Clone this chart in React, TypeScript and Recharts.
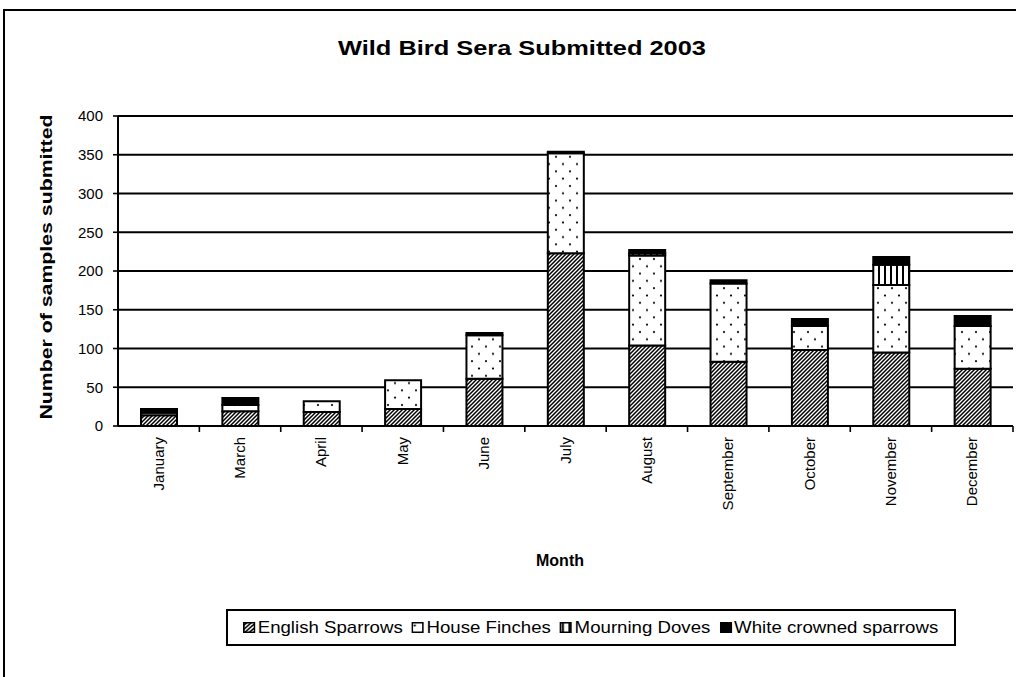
import React from 'react';
import { BarChart, Bar, XAxis, YAxis, CartesianGrid } from 'recharts';

// Wild bird serum samples per month, 2003
const MONTHS = ['January', 'March', 'April', 'May', 'June', 'July', 'August', 'September', 'October', 'November', 'December'];
const ENGLISH_SPARROWS = [14, 19, 18, 22, 61, 223, 104, 83, 98, 95, 74];
const HOUSE_FINCHES = [3, 8, 14, 37, 56, 129, 116, 101, 31, 87, 55];
const MOURNING_DOVES = [0, 0, 0, 0, 0, 0, 3, 0, 0, 26, 0];
const WHITE_CROWNED = [5, 9, 0, 0, 3, 2, 4, 4, 9, 10, 13];
const Y_TICKS = [0, 50, 100, 150, 200, 250, 300, 350, 400];

const SERIES = [
  { key: 'english', name: 'English Sparrows', fill: 'url(#hatch)' },
  { key: 'finch', name: 'House Finches', fill: 'url(#dots)' },
  { key: 'dove', name: 'Mourning Doves', fill: 'url(#vlines)' },
  { key: 'white', name: 'White crowned sparrows', fill: '#000' },
];

const data = MONTHS.map((m, i) => ({
  month: m,
  english: ENGLISH_SPARROWS[i],
  finch: HOUSE_FINCHES[i],
  dove: MOURNING_DOVES[i],
  white: WHITE_CROWNED[i],
}));

const FONT = '"Liberation Sans", Arial, sans-serif';
const W = 1016;
const H = 677;
const MARGIN = { top: 116, right: 3, bottom: 161, left: 58 };
const Y_AXIS_W = 60;
const X_AXIS_H = 90;
const PLOT_W = W - MARGIN.left - MARGIN.right - Y_AXIS_W;
const HALF_BAND = PLOT_W / MONTHS.length / 2;

const Patterns = () => (
  <svg width={0} height={0} style={{ position: 'absolute' }}>
    <defs>
      <pattern id="hatch" width={4} height={4} patternUnits="userSpaceOnUse">
        <rect width={4} height={4} fill="#fff" />
        <path d="M-1,1 l2,-2 M0,4 l4,-4 M3,5 l2,-2" stroke="#000" strokeWidth={1.5} />
      </pattern>
      <pattern id="dots" width={14} height={14.6} patternUnits="userSpaceOnUse">
        <rect width={14} height={14.6} fill="#fff" />
        <circle cx={3} cy={3.5} r={1.1} fill="#000" />
        <circle cx={10} cy={10.8} r={1.1} fill="#000" />
      </pattern>
      <pattern id="vlines" width={6} height={6} patternUnits="userSpaceOnUse">
        <rect width={6} height={6} fill="#fff" />
        <rect x={2} width={2} height={6} fill="#000" />
      </pattern>
    </defs>
  </svg>
);

// month names run upward, with Excel-style tick marks on the category boundaries
const MonthTick = (props: any) => {
  const { x, y, payload } = props;
  return (
    <g>
      <line x1={x + HALF_BAND} y1={y} x2={x + HALF_BAND} y2={y + 6} stroke="#000" strokeWidth={1.6} />
      <text
        transform={`translate(${x + 5},${y + 11}) rotate(-90)`}
        textAnchor="end"
        fontSize={15}
        fontFamily={FONT}
        fill="#000"
      >
        {payload.value}
      </text>
    </g>
  );
};

const Swatch = ({ fill }: { fill: string }) => (
  <svg width={11} height={11} style={{ marginRight: 2 }}>
    <rect x={0.75} y={0.75} width={9.5} height={9.5} fill={fill} stroke="#000" strokeWidth={1.5} />
  </svg>
);

export default function App() {
  return (
    <div style={{ position: 'absolute', left: 0, top: 0, width: W, height: H, overflow: 'hidden', background: '#fff', fontFamily: FONT }}>
      <Patterns />
      <div style={{ position: 'absolute', left: 3, top: 9, width: W, height: H, borderTop: '2px solid #000', borderLeft: '2px solid #000' }} />
      <BarChart width={W} height={H} data={data} margin={MARGIN} barSize={36} style={{ position: 'absolute', left: 0, top: 0 }}>
        <CartesianGrid vertical={false} stroke="#000" strokeWidth={2} />
        <XAxis
          dataKey="month"
          height={X_AXIS_H}
          interval={0}
          tickLine={false}
          tickSize={0}
          tickMargin={0}
          axisLine={{ stroke: '#000', strokeWidth: 2 }}
          tick={<MonthTick />}
        />
        <YAxis
          width={Y_AXIS_W}
          domain={[0, 400]}
          ticks={Y_TICKS}
          interval={0}
          tickSize={5}
          tickMargin={10}
          axisLine={{ stroke: '#000', strokeWidth: 2 }}
          tickLine={{ stroke: '#000', strokeWidth: 1.6 }}
          tick={{ fontSize: 15, fill: '#000', fontFamily: FONT }}
        />
        {SERIES.map((s) => (
          <Bar
            key={s.key}
            dataKey={s.key}
            name={s.name}
            stackId="birds"
            fill={s.fill}
            stroke="#000"
            strokeWidth={2}
            isAnimationActive={false}
          />
        ))}
      </BarChart>
      <svg width={W} height={H} style={{ position: 'absolute', left: 0, top: 0, pointerEvents: 'none' }}>
        <text x={522} y={55} textAnchor="middle" fontSize={20} fontWeight="bold" fontFamily={FONT} textLength={368} lengthAdjust="spacingAndGlyphs">
          Wild Bird Sera Submitted 2003
        </text>
        <text
          transform="translate(52,267) rotate(-90)"
          textAnchor="middle"
          fontSize={16}
          fontWeight="bold"
          fontFamily={FONT}
          textLength={305}
          lengthAdjust="spacingAndGlyphs"
        >
          Number of samples submitted
        </text>
        <text x={560} y={566} textAnchor="middle" fontSize={16} fontWeight="bold" fontFamily={FONT}>
          Month
        </text>
      </svg>
      <div
        style={{
          position: 'absolute',
          left: 226,
          top: 609,
          width: 726,
          height: 33,
          border: '2px solid #000',
          display: 'flex',
          alignItems: 'center',
          justifyContent: 'center',
          color: '#000',
        }}
      >
        <div style={{ display: 'flex', alignItems: 'center', gap: 8, fontSize: 16.5, transform: 'scaleX(1.13)' }}>
          {SERIES.map((s) => (
            <div key={s.key} style={{ display: 'flex', alignItems: 'center', whiteSpace: 'nowrap' }}>
              <Swatch fill={s.fill} />
              {s.name}
            </div>
          ))}
        </div>
      </div>
    </div>
  );
}
